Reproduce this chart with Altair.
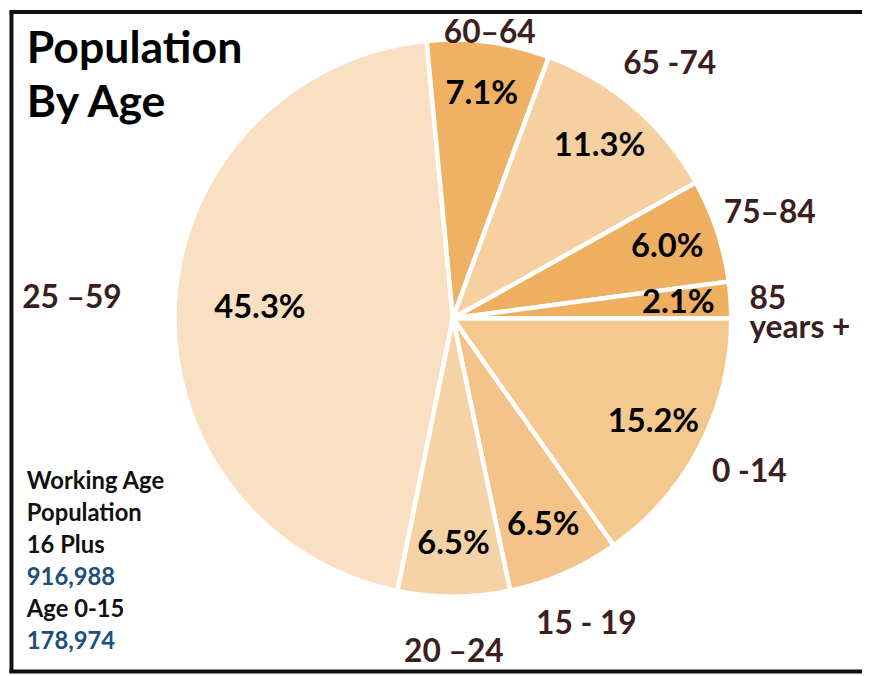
import math
import altair as alt
import pandas as pd

# ---- data ----
age_groups = ["0 -14", "15 - 19", "20 –24", "25 –59", "60–64", "65 -74", "75–84", "85\nyears +"]
shares = [15.2, 6.5, 6.5, 45.3, 7.1, 11.3, 6.0, 2.1]

slice_colors = ["#F5C88F", "#F3C38A", "#F6D3A6", "#F9E0C3", "#EFB265", "#F6D0A0", "#EFAF61", "#EFAF61"]

title_lines = ["Population", "By Age"]
note_lines = ["Working Age", "Population", "16 Plus", "916,988", "Age 0-15", "178,974"]
note_is_number = [False, False, False, True, False, True]

# ---- layout ----
W, H = 862, 668
CX, CY, R = 449, 310, 281
FONT = "Lato"

df = pd.DataFrame({"age": age_groups, "share": shares, "order": list(range(len(shares)))})

theta = alt.Theta("share:Q", stack=True,
                  scale=alt.Scale(range=[math.pi / 2, math.pi / 2 + 2 * math.pi]))
base = alt.Chart(df).encode(theta=theta, order=alt.Order("order:Q", sort="ascending"),
                            x=alt.value(CX), y=alt.value(CY))

pie = base.mark_arc(outerRadius=R, stroke="white", strokeWidth=4.5).encode(
    color=alt.Color("age:N", scale=alt.Scale(domain=age_groups, range=slice_colors), legend=None)
)

pct = base.transform_calculate(pct="format(datum.share, '.1f') + '%'").mark_text(
    radius=alt.expr("datum.order == 3 ? 195 : 228"),
    font=FONT, fontWeight="bold", fontSize=33, color="#000000"
).encode(text="pct:N")

cat = base.transform_calculate(lab="datum.order == 7 ? '' : datum.age").mark_text(
    radius=alt.expr("datum.order == 3 ? 385 : (datum.order == 4 ? 290 : 337)"),
    font=FONT, fontWeight="bold", fontSize=32, color="#3B1E1E"
).encode(text="lab:N")

last = base.transform_calculate(lab="datum.order == 7 ? datum.age : ''").mark_text(
    radius=300, align="left", lineBreak="\n", lineHeight=30,
    font=FONT, fontWeight="bold", fontSize=32, color="#3B1E1E"
).encode(text="lab:N")

title = alt.Chart(pd.DataFrame({"t": ["\n".join(title_lines)]})).mark_text(
    align="left", baseline="alphabetic", lineBreak="\n", lineHeight=55,
    font=FONT, fontWeight="bold", fontSize=45, color="#000000"
).encode(x=alt.value(19), y=alt.value(52), text="t:N")

NOTE_Y0, NOTE_STEP = 482, 32.4
notes = [
    alt.Chart(pd.DataFrame({"t": [txt]})).mark_text(
        align="left", baseline="alphabetic",
        font=FONT, fontWeight="bold", fontSize=24,
        color="#1F4E79" if is_num else "#111111"
    ).encode(x=alt.value(19), y=alt.value(NOTE_Y0 + i * NOTE_STEP), text="t:N")
    for i, (txt, is_num) in enumerate(zip(note_lines, note_is_number))
]

one = pd.DataFrame({"k": [0]})
frame_left = alt.Chart(one).mark_rule(color="#111111", strokeWidth=4).encode(
    x=alt.value(3.5), y=alt.value(0), y2=alt.value(H))
frame_top = alt.Chart(one).mark_rule(color="#111111", strokeWidth=4).encode(
    x=alt.value(1.5), x2=alt.value(W), y=alt.value(1))
frame_bottom = alt.Chart(one).mark_rule(color="#111111", strokeWidth=4).encode(
    x=alt.value(1.5), x2=alt.value(W), y=alt.value(H - 1.5))

chart = alt.layer(pie, pct, cat, last, title, *notes, frame_left, frame_top, frame_bottom).properties(
    width=W, height=H, padding=0, autosize="none", background="white"
).configure_view(stroke=None)

chart.save("out.html", embed_options={"renderer": "svg", "actions": False})
